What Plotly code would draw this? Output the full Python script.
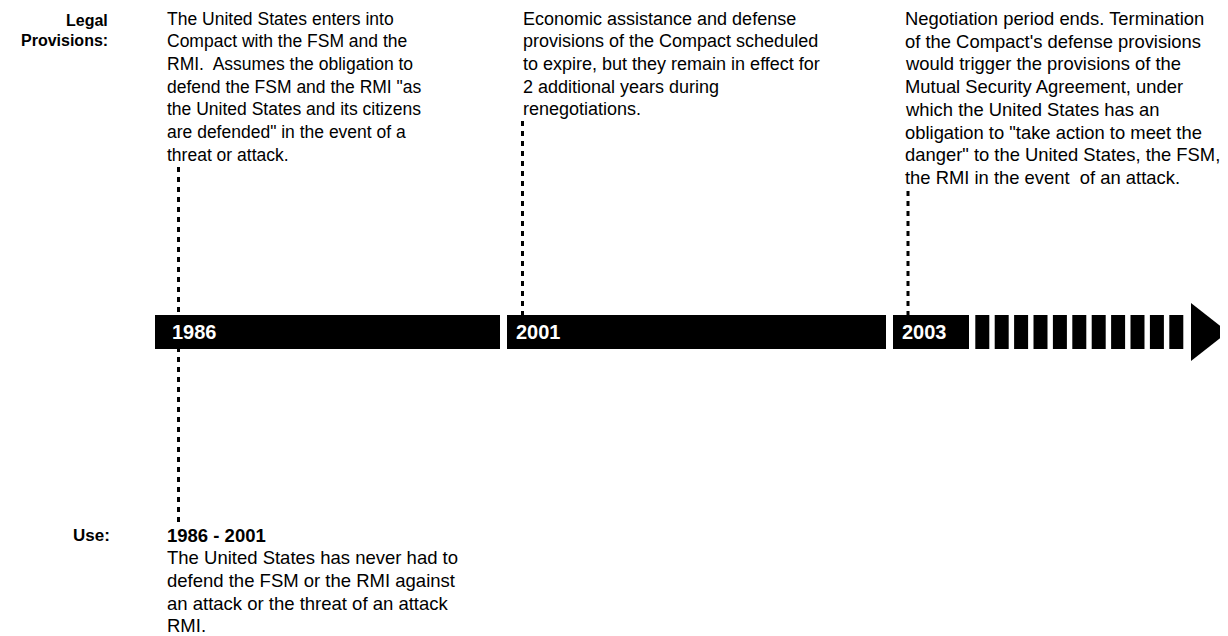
import plotly.graph_objects as go

# ---------------- data ----------------
years = ["1986", "2001", "2003"]

provision_texts = [
    ["The United States enters into",
     "Compact with the FSM and the",
     "RMI.\u00a0 Assumes the obligation to",
     'defend the FSM and the RMI "as',
     "the United States and its citizens",
     'are defended" in the event of a',
     "threat or attack."],
    ["Economic assistance and defense",
     "provisions of the Compact scheduled",
     "to expire, but they remain in effect for",
     "2 additional years during",
     "renegotiations."],
    ["Negotiation period ends. Termination",
     "of the Compact's defense provisions",
     "would trigger the provisions of the",
     "Mutual Security Agreement, under",
     "which the United States has an",
     'obligation to "take action to meet the',
     'danger" to the United States, the FSM,',
     "the RMI in the event\u00a0 of an attack."],
]

use_period = "1986 - 2001"
use_text = ["The United States has never had to",
            "defend the FSM or the RMI against",
            "an attack or the threat of an attack",
            "RMI."]

row_label_provisions = ["Legal", "Provisions:"]
row_label_use = ["Use:"]

# ---------------- layout constants ----------------
W, H = 1228, 636
OFF = 8  # page body margin
FONT = "Liberation Sans, Arial, Helvetica, sans-serif"
block_fs = [17.5, 18, 18.4]
USE_FS = 18.5
LINE_H = 22.7

seg_x = [(155, 500), (507, 886), (893, 969)]
bar_y = (315, 349)
marker_x = [178.5, 522.5, 908]
marker_top = [167, 121, 191]
use_line_bottom = 523
text_x = [165, 521, 903]
text_top = 18.5
use_top = 535
n_dashes = 11
dash_x0, dash_step, dash_w = 975.3, 19.4, 14
tri_x0, tri_x1, tri_y0, tri_y1 = 1191, 1228, 303, 361

shapes = []
annotations = []

# dotted connector lines (drawn first, behind bars)
for i, mx in enumerate(marker_x):
    y_end = use_line_bottom if i == 0 else bar_y[0]
    shapes.append(dict(type="line", xref="x", yref="y", x0=mx, x1=mx,
                       y0=marker_top[i], y1=y_end,
                       line=dict(color="black", width=3, dash="5px,5px")))

# timeline bars
for (x0, x1) in seg_x:
    shapes.append(dict(type="rect", xref="x", yref="y", x0=x0, x1=x1,
                       y0=bar_y[0], y1=bar_y[1], fillcolor="black",
                       line=dict(width=0)))

# dashed continuation
for k in range(n_dashes):
    x0 = dash_x0 + k * dash_step
    shapes.append(dict(type="rect", xref="x", yref="y", x0=x0, x1=x0 + dash_w,
                       y0=bar_y[0], y1=bar_y[1], fillcolor="black",
                       line=dict(width=0)))

# arrow head
shapes.append(dict(type="path", xref="x", yref="y",
                   path=f"M {tri_x0},{tri_y0} L {tri_x1},{(tri_y0 + tri_y1) / 2} L {tri_x0},{tri_y1} Z",
                   fillcolor="black", line=dict(width=0)))

# year labels on bars
for i, yr in enumerate(years):
    annotations.append(dict(x=marker_x[i] - 8.5, y=(bar_y[0] + bar_y[1]) / 2,
                            xref="x", yref="y", text=f"<b>{yr}</b>",
                            showarrow=False, xanchor="left", yanchor="middle",
                            font=dict(family=FONT, size=20, color="white")))

# provision texts
for i, lines in enumerate(provision_texts):
    for j, ln in enumerate(lines):
        annotations.append(dict(x=text_x[i], y=text_top + j * LINE_H,
                                xref="x", yref="y", text=ln, showarrow=False,
                                xanchor="left", yanchor="middle",
                                font=dict(family=FONT, size=block_fs[i], color="black")))

# row labels
for j, ln in enumerate(row_label_provisions):
    annotations.append(dict(x=110, y=20 + j * 20.5, xref="x", yref="y",
                            text=f"<b>{ln}</b>", showarrow=False,
                            xanchor="right", yanchor="middle",
                            font=dict(family=FONT, size=16, color="black")))
for ln in row_label_use:
    annotations.append(dict(x=112, y=use_top, xref="x", yref="y",
                            text=f"<b>{ln}</b>", showarrow=False,
                            xanchor="right", yanchor="middle",
                            font=dict(family=FONT, size=17, color="black")))

# use section
annotations.append(dict(x=text_x[0], y=use_top, xref="x", yref="y",
                        text=f"<b>{use_period}</b>", showarrow=False,
                        xanchor="left", yanchor="middle",
                        font=dict(family=FONT, size=USE_FS, color="black")))
for j, ln in enumerate(use_text):
    annotations.append(dict(x=text_x[0], y=use_top + (j + 1) * LINE_H, xref="x", yref="y",
                            text=ln, showarrow=False,
                            xanchor="left", yanchor="middle",
                            font=dict(family=FONT, size=USE_FS, color="black")))

fig = go.Figure()
fig.add_trace(go.Scatter(x=[OFF, W], y=[OFF, H], mode="markers",
                         marker=dict(opacity=0), hoverinfo="skip", showlegend=False))
fig.update_layout(
    width=W - OFF, height=H - OFF, margin=dict(l=0, r=0, t=0, b=0),
    paper_bgcolor="white", plot_bgcolor="white",
    xaxis=dict(range=[OFF, W], visible=False, fixedrange=True),
    yaxis=dict(range=[H, OFF], visible=False, fixedrange=True),
    shapes=shapes, annotations=annotations, showlegend=False,
)
fig.write_html("out.html", config={"displayModeBar": False})
